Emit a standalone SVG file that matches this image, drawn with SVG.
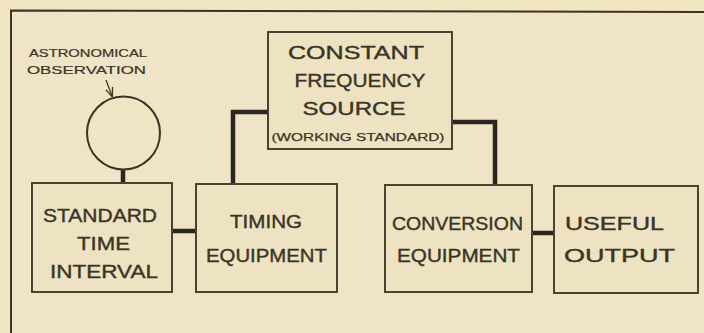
<svg xmlns="http://www.w3.org/2000/svg" width="704" height="333" viewBox="0 0 704 333">
<style>
.box{fill:#ede3c3;stroke:#4a4233;stroke-width:2}
.t{font-family:"Liberation Sans",Arial,sans-serif;font-size:19px;fill:#3b3426;stroke:#3b3426;stroke-width:0.4;text-anchor:middle}
.s{font-family:"Liberation Sans",Arial,sans-serif;font-size:10.5px;fill:#3b3426;stroke:#3b3426;stroke-width:0.2;text-anchor:middle}
.w{font-family:"Liberation Sans",Arial,sans-serif;font-size:11.5px;fill:#3b3426;stroke:#3b3426;stroke-width:0.25;text-anchor:middle}
.c{fill:none;stroke:#2a2620;stroke-width:4.5;stroke-linejoin:miter}
</style>
<defs>
<marker id="ah" viewBox="0 0 10 10" refX="9" refY="5" markerWidth="7" markerHeight="7" orient="auto">
<path d="M0,1 L10,5 L0,9" fill="none" stroke="#3b3426" stroke-width="1.5"/>
</marker>
</defs>
<rect x="0" y="0" width="704" height="333" fill="#f2e5c1"/>
<rect x="12" y="11.5" width="692" height="322" fill="#efe5c6"/>
<path d="M11,333 L11,10.5 L704,12" fill="none" stroke="#3a3328" stroke-width="2"/>
<g id="connectors">
<path class="c" d="M123,169 L123,183"/>
<path class="c" d="M172,231 L196,231"/>
<path class="c" d="M233,184 L233,112 L268,112"/>
<path class="c" d="M452,122 L495,122 L495,185"/>
<path class="c" d="M532,233 L554,233"/>
<path d="M106,80 L112,96" fill="none" stroke="#3b3426" stroke-width="1.3" marker-end="url(#ah)"/>
</g>
<g id="astronomical">
<text class="s" x="88" y="57" textLength="118" lengthAdjust="spacingAndGlyphs">ASTRONOMICAL</text>
<text class="s" x="86.5" y="74" textLength="119" lengthAdjust="spacingAndGlyphs">OBSERVATION</text>
<circle cx="123.5" cy="133" r="36.5" fill="none" stroke="#3a3328" stroke-width="2"/>
</g>
<g id="cfs">
<rect class="box" x="268" y="32" width="184" height="117"/>
<text class="t" x="356" y="59" textLength="136" lengthAdjust="spacingAndGlyphs">CONSTANT</text>
<text class="t" x="360" y="87" textLength="131" lengthAdjust="spacingAndGlyphs">FREQUENCY</text>
<text class="t" x="354" y="115" textLength="103" lengthAdjust="spacingAndGlyphs">SOURCE</text>
<text class="w" x="358" y="141" textLength="173" lengthAdjust="spacingAndGlyphs">(WORKING STANDARD)</text>
</g>
<g id="standard">
<rect class="box" x="32" y="183" width="140" height="109"/>
<text class="t" x="100" y="222" textLength="114" lengthAdjust="spacingAndGlyphs">STANDARD</text>
<text class="t" x="103.5" y="250" textLength="53" lengthAdjust="spacingAndGlyphs">TIME</text>
<text class="t" x="104" y="278" textLength="108" lengthAdjust="spacingAndGlyphs">INTERVAL</text>
</g>
<g id="timing">
<rect class="box" x="196" y="184" width="141" height="108"/>
<text class="t" x="266" y="228" textLength="72" lengthAdjust="spacingAndGlyphs">TIMING</text>
<text class="t" x="266.5" y="262" textLength="121" lengthAdjust="spacingAndGlyphs">EQUIPMENT</text>
</g>
<g id="conversion">
<rect class="box" x="385" y="185" width="147" height="107"/>
<text class="t" x="457.5" y="230" textLength="131" lengthAdjust="spacingAndGlyphs">CONVERSION</text>
<text class="t" x="458.5" y="262" textLength="123" lengthAdjust="spacingAndGlyphs">EQUIPMENT</text>
</g>
<g id="useful">
<rect class="box" x="554" y="186" width="144" height="107"/>
<text class="t" x="614.5" y="230" textLength="99" lengthAdjust="spacingAndGlyphs">USEFUL</text>
<text class="t" x="619.5" y="262" textLength="111" lengthAdjust="spacingAndGlyphs">OUTPUT</text>
</g>
</svg>
